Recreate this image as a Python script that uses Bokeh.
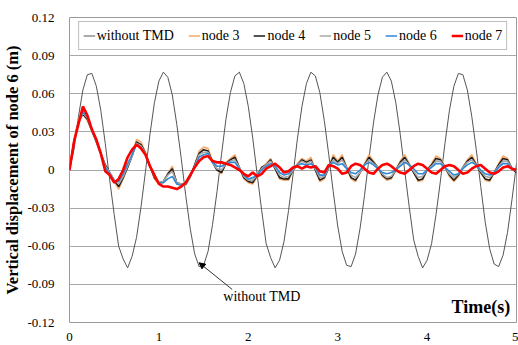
from bokeh.plotting import figure
from bokeh.models import (ColumnDataSource, Legend, LegendItem, FixedTicker,
                          CustomJSTickFormatter, Range1d, Arrow, NormalHead, Label)
from bokeh.embed import file_html
from bokeh.resources import INLINE
import numpy as np

# time axis (s), 0.05 s steps
time_s = np.round(np.arange(101) * 0.05, 2)

without_tmd = [
    0.000, 0.016, 0.042, 0.063, 0.075, 0.076, 0.066, 0.047, 0.021, -0.008, -0.035, -0.060, -0.070, -0.077, -0.068, -0.053, -0.029, -0.001, 0.028, 0.053,
    0.070, 0.077, 0.073, 0.059, 0.036, 0.009, -0.020, -0.046, -0.066, -0.076, -0.075, -0.064, -0.043, -0.017, 0.012, 0.040, 0.061, 0.074, 0.077, 0.068,
    0.050, 0.025, -0.004, -0.032, -0.058, -0.069, -0.077, -0.071, -0.056, -0.032, -0.004, 0.025, 0.050, 0.068, 0.077, 0.074, 0.061, 0.039, 0.012, -0.017,
    -0.044, -0.064, -0.075, -0.076, -0.066, -0.046, -0.020, 0.009, 0.037, 0.059, 0.073, 0.077, 0.070, 0.053, 0.028, -0.001, -0.029, -0.055, -0.068, -0.077,
    -0.071, -0.058, -0.035, -0.008, 0.021, 0.047, 0.066, 0.076, 0.075, 0.063, 0.042, 0.016, -0.013, -0.041, -0.062, -0.074, -0.076, -0.067, -0.049, -0.023, 0.005,
]

node3 = [
    0.000, 0.024, 0.040, 0.044, 0.039, 0.031, 0.023, 0.014, 0.004, -0.003, -0.009, -0.015, -0.007, 0.002, 0.012, 0.024, 0.022, 0.014, 0.003, -0.007,
    -0.011, -0.010, -0.003, 0.003, -0.011, -0.012, -0.012, -0.006, 0.004, 0.015, 0.018, 0.017, 0.007, 0.000, -0.003, 0.006, 0.009, 0.012, 0.002, -0.007,
    -0.010, -0.011, -0.005, 0.002, 0.005, 0.009, 0.001, -0.007, -0.008, -0.008, 0.000, 0.005, 0.009, 0.007, 0.010, 0.000, -0.009, -0.007, 0.002, 0.012,
    0.007, 0.012, 0.002, -0.007, -0.009, -0.002, 0.005, 0.012, 0.007, 0.002, -0.005, -0.008, -0.007, 0.000, 0.007, 0.012, 0.005, -0.002, -0.009, -0.008,
    0.000, 0.005, 0.011, 0.009, 0.002, -0.005, -0.009, -0.005, 0.002, 0.008, 0.012, 0.005, -0.002, -0.008, -0.009, -0.002, 0.005, 0.011, 0.009, 0.001, -0.002,
]

node4 = [
    0.000, 0.022, 0.038, 0.044, 0.040, 0.031, 0.022, 0.013, 0.004, -0.002, -0.008, -0.013, -0.006, 0.002, 0.011, 0.022, 0.020, 0.013, 0.003, -0.006,
    -0.010, -0.009, -0.003, 0.001, -0.010, -0.011, -0.011, -0.005, 0.004, 0.013, 0.016, 0.015, 0.006, 0.000, -0.002, 0.005, 0.008, 0.010, 0.002, -0.006,
    -0.009, -0.010, -0.004, 0.002, 0.004, 0.008, 0.001, -0.006, -0.007, -0.007, 0.000, 0.004, 0.008, 0.006, 0.008, 0.000, -0.008, -0.006, 0.002, 0.010,
    0.006, 0.010, 0.002, -0.006, -0.008, -0.002, 0.004, 0.010, 0.006, 0.002, -0.004, -0.007, -0.006, 0.000, 0.006, 0.010, 0.004, -0.002, -0.008, -0.007,
    0.000, 0.004, 0.009, 0.008, 0.002, -0.004, -0.008, -0.004, 0.002, 0.007, 0.010, 0.004, -0.002, -0.007, -0.008, -0.002, 0.004, 0.009, 0.008, 0.001, -0.002,
]

node5 = [
    0.000, 0.022, 0.037, 0.045, 0.041, 0.031, 0.022, 0.013, 0.003, -0.002, -0.008, -0.011, -0.005, 0.003, 0.011, 0.021, 0.019, 0.013, 0.003, -0.005,
    -0.010, -0.009, -0.004, -0.001, -0.010, -0.011, -0.011, -0.005, 0.003, 0.012, 0.014, 0.014, 0.006, 0.001, 0.000, 0.005, 0.007, 0.008, 0.002, -0.005,
    -0.008, -0.008, -0.004, 0.001, 0.004, 0.007, 0.002, -0.004, -0.006, -0.005, 0.000, 0.004, 0.007, 0.005, 0.007, 0.001, -0.006, -0.005, 0.002, 0.008,
    0.005, 0.008, 0.002, -0.004, -0.006, -0.002, 0.004, 0.008, 0.005, 0.002, -0.003, -0.006, -0.005, 0.000, 0.005, 0.008, 0.004, -0.001, -0.006, -0.005,
    0.000, 0.003, 0.007, 0.007, 0.002, -0.003, -0.006, -0.003, 0.002, 0.006, 0.008, 0.004, -0.001, -0.005, -0.006, -0.002, 0.003, 0.007, 0.007, 0.001, -0.001,
]

node6 = [
    0.000, 0.022, 0.037, 0.046, 0.042, 0.031, 0.023, 0.013, 0.002, -0.003, -0.009, -0.009, -0.003, 0.005, 0.012, 0.020, 0.018, 0.012, 0.003, -0.005,
    -0.010, -0.010, -0.007, -0.005, -0.011, -0.012, -0.011, -0.005, 0.002, 0.010, 0.012, 0.013, 0.006, 0.003, 0.003, 0.005, 0.006, 0.006, 0.001, -0.004,
    -0.007, -0.006, -0.004, 0.000, 0.003, 0.005, 0.003, -0.002, -0.004, -0.003, 0.001, 0.004, 0.005, 0.004, 0.005, 0.002, -0.004, -0.004, 0.003, 0.006,
    0.004, 0.005, 0.001, -0.002, -0.003, 0.000, 0.004, 0.006, 0.004, 0.001, -0.002, -0.003, -0.002, 0.000, 0.003, 0.006, 0.004, 0.001, -0.003, -0.003,
    0.000, 0.002, 0.005, 0.005, 0.002, -0.001, -0.004, -0.003, 0.001, 0.004, 0.006, 0.004, 0.000, -0.003, -0.004, -0.002, 0.002, 0.005, 0.005, 0.001, -0.001,
]

node7 = [
    0.000, 0.022, 0.036, 0.050, 0.043, 0.032, 0.024, 0.013, -0.001, -0.004, -0.010, -0.007, 0.000, 0.010, 0.016, 0.020, 0.017, 0.012, 0.003, -0.004,
    -0.011, -0.013, -0.013, -0.014, -0.015, -0.013, -0.010, -0.004, 0.002, 0.007, 0.010, 0.011, 0.007, 0.006, 0.006, 0.005, 0.004, 0.002, 0.000, -0.003,
    -0.005, -0.002, -0.005, -0.003, 0.001, 0.003, 0.005, 0.002, -0.002, -0.001, 0.002, 0.003, 0.001, 0.003, 0.002, 0.003, -0.001, -0.002, 0.004, 0.003,
    0.001, -0.003, -0.002, 0.003, 0.005, 0.004, 0.001, -0.002, -0.003, 0.001, 0.004, 0.005, 0.003, 0.000, -0.002, -0.003, 0.000, 0.003, 0.005, 0.004,
    0.001, -0.002, -0.003, 0.000, 0.003, 0.004, 0.003, 0.000, -0.003, -0.002, 0.001, 0.003, 0.004, 0.001, -0.002, -0.003, -0.001, 0.002, 0.003, 0.001, 0.000,
]

y_ticks = [-0.12, -0.09, -0.06, -0.03, 0.0, 0.03, 0.06, 0.09, 0.12]
x_ticks = [0, 1, 2, 3, 4, 5]

series_labels = ["without TMD", "node 3", "node 4", "node 5", "node 6", "node 7"]
series_data = [without_tmd, node3, node4, node5, node6, node7]
series_colors = ["#555555", "#f6a868", "#1a1a1a", "#a8a8a8", "#2e8ad8", "#ff0000"]
series_widths = [1.0, 1.6, 1.6, 1.6, 1.6, 2.6]

SERIF = "Liberation Serif"

src = ColumnDataSource(dict(t=time_s, **{f"s{i}": d for i, d in enumerate(series_data)}))

p = figure(width=518, height=345, output_backend="svg", toolbar_location=None,
           x_range=Range1d(0, 5), y_range=Range1d(-0.12, 0.12),
           min_border_left=68, min_border_right=2, min_border_top=17, min_border_bottom=23)
p.background_fill_color = "white"
p.border_fill_color = "white"
p.outline_line_color = "#9a9a9a"
p.outline_line_width = 1

p.xgrid.visible = False
p.ygrid.grid_line_color = "#a8a8a8"
p.ygrid.grid_line_width = 1
p.ygrid.ticker = FixedTicker(ticks=y_ticks)

p.yaxis.ticker = FixedTicker(ticks=y_ticks)
p.xaxis.ticker = FixedTicker(ticks=x_ticks)
p.yaxis.formatter = CustomJSTickFormatter(code="""
    if (Math.abs(tick) < 1e-9) { return '0'; }
    return tick.toFixed(2);
""")
for ax in (p.xaxis, p.yaxis):
    ax.axis_line_color = None
    ax.major_tick_line_color = None
    ax.minor_tick_line_color = None
    ax.major_label_text_font = SERIF
    ax.major_label_text_font_size = "13px"
    ax.major_label_text_color = "#000000"
p.yaxis.major_label_standoff = 9
p.xaxis.major_label_standoff = 4
p.yaxis.axis_label = "Vertical displacement of node 6 (m)"
p.yaxis.axis_label_text_font = SERIF
p.yaxis.axis_label_text_font_style = "bold"
p.yaxis.axis_label_text_font_size = "16.5px"
p.yaxis.axis_label_text_color = "#000000"
p.yaxis.axis_label_standoff = 2

renderers = []
for i, (lab, col, w) in enumerate(zip(series_labels, series_colors, series_widths)):
    r = p.line("t", f"s{i}", source=src, line_color=col, line_width=w)
    renderers.append(r)

legend = Legend(items=[LegendItem(label=lab, renderers=[r]) for lab, r in zip(series_labels, renderers)],
                orientation="horizontal", location="top_center", margin=4,
                padding=4, spacing=14, glyph_width=12, glyph_height=19, label_height=19,
                label_standoff=2, label_text_font=SERIF, label_text_font_size="14px",
                label_text_color="#000000",
                border_line_color="#7f7f7f", border_line_width=1,
                background_fill_color="white", background_fill_alpha=1.0)
p.add_layout(legend, "center")

p.add_layout(Arrow(end=NormalHead(size=6, fill_color="black", line_color="black"),
                   x_start=1.82, y_start=-0.094, x_end=1.45, y_end=-0.073,
                   line_color="#333333", line_width=1))
p.add_layout(Label(x=1.72, y=-0.0997, text="without TMD", text_font=SERIF,
                   text_font_size="14px", text_baseline="middle", text_align="left",
                   text_color="#000000"))
p.add_layout(Label(x=4.93, y=-0.1075, text="Time(s)", text_font=SERIF,
                   text_font_size="18px", text_font_style="bold",
                   text_baseline="middle", text_align="right", text_color="#000000"))

open("out.html", "w").write(file_html(p, INLINE))
